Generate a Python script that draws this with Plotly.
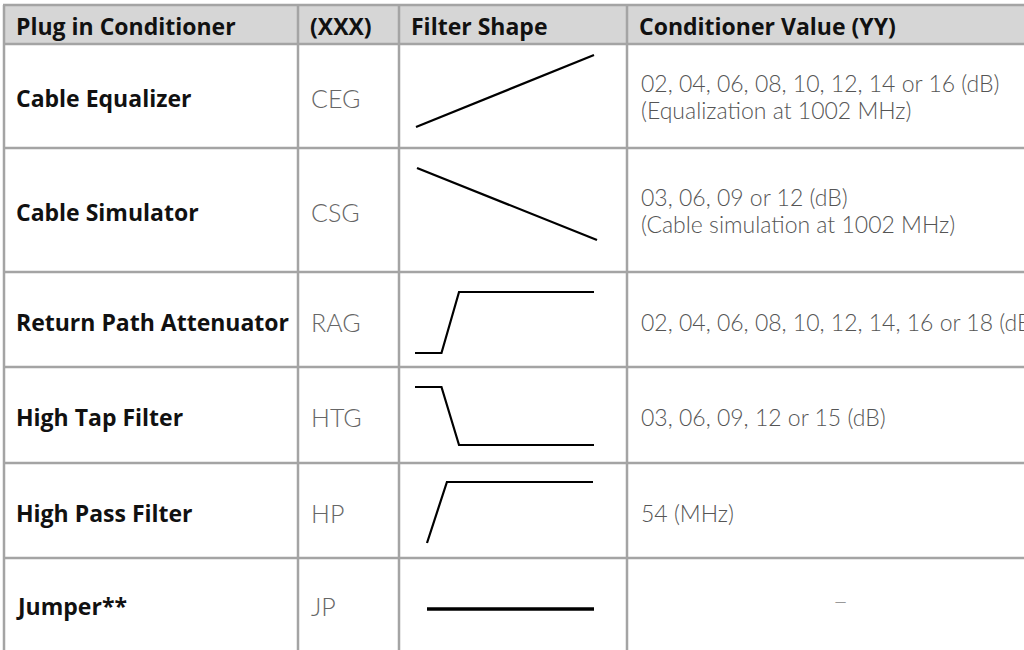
import plotly.graph_objects as go

# ---------------- data ----------------
headers = ["Plug in Conditioner", "(XXX)", "Filter Shape", "Conditioner Value (YY)"]
components = ["Cable Equalizer", "Cable Simulator", "Return Path Attenuator",
              "High Tap Filter", "High Pass Filter", "Jumper**"]
codes = ["CEG", "CSG", "RAG", "HTG", "HP", "JP"]
values_line1 = ["02, 04, 06, 08, 10, 12, 14 or 16 (dB)",
                "03, 06, 09 or 12 (dB)",
                "02, 04, 06, 08, 10, 12, 14, 16 or 18 (dB)",
                "03, 06, 09, 12 or 15 (dB)",
                "54 (MHz)",
                "\u2013"]
values_line2 = ["(Equalization at 1002 MHz)", "(Cable simulation at 1002 MHz)", "", "", "", ""]

# normalised filter response profiles (x: 0..1 frequency, y: 0..1 level)
shape_x = [[0, 1], [0, 1], [0, 0.148, 0.246, 1], [0, 0.148, 0.246, 1], [0, 0.12, 1], [0, 1]]
shape_y = [[0, 1], [1, 0], [0, 0, 1, 1], [1, 1, 0, 0], [0, 1, 1], [0.5, 0.5]]

# ---------------- layout constants (page pixels) ----------------
W, H = 1024, 650
col_x = [4, 298, 399, 627, 1100]
row_y = [5, 44, 148, 272, 367, 463, 558, 650]
# box (x0, x1, top, bottom) of the drawn filter shape in each row
shape_box = [(416, 594, 55, 127), (417, 597, 168, 240), (415, 594, 292, 353),
             (415, 594, 387, 445), (427, 593, 482, 543), (427, 594, 609, 609)]
grid_col = "#a4a4a4"
head_bg = "#d6d6d6"

fig = go.Figure()

shapes = []
shapes.append(dict(type="rect", xref="x", yref="y", x0=col_x[0], x1=col_x[-1],
                   y0=row_y[0], y1=row_y[1], fillcolor=head_bg, line_width=0, layer="below"))
for y in row_y[:-1]:
    shapes.append(dict(type="line", xref="x", yref="y", x0=col_x[0] - 1, x1=col_x[-1],
                       y0=y, y1=y, line=dict(color=grid_col, width=2.5)))
for x in col_x[:-1]:
    shapes.append(dict(type="line", xref="x", yref="y", x0=x, x1=x,
                       y0=row_y[0], y1=row_y[-1] + 20, line=dict(color=grid_col, width=2.5)))

bold_font = dict(family="Open Sans, sans-serif", size=23, color="#111", weight=700)
code_font = dict(family="Lato, sans-serif", size=25, color="#666", weight=300)
val_font = dict(family="Lato, sans-serif", size=23, color="#555", weight=300)

annotations = []
for i, h in enumerate(headers):
    annotations.append(dict(x=col_x[i] + 10, y=(row_y[0] + row_y[1]) / 2 + 1, text=h,
                            xanchor="left", yanchor="middle", showarrow=False, font=bold_font))

for r in range(len(components)):
    yc = (row_y[r + 1] + row_y[r + 2]) / 2 + 2
    annotations.append(dict(x=col_x[0] + 10, y=yc, text=components[r], xanchor="left",
                            yanchor="middle", showarrow=False, font=bold_font))
    annotations.append(dict(x=col_x[1] + 11, y=yc, text=codes[r], xanchor="left",
                            yanchor="middle", showarrow=False, font=code_font))
    if values_line1[r] == "\u2013":
        annotations.append(dict(x=(col_x[3] + 1054) / 2, y=yc - 6, text=values_line1[r],
                                xanchor="center", yanchor="middle", showarrow=False,
                                font=dict(family="Lato, sans-serif", size=26, color="#999", weight=300)))
    elif values_line2[r]:
        annotations.append(dict(x=col_x[3] + 12, y=yc - 15, text=values_line1[r], xanchor="left",
                                yanchor="middle", showarrow=False, font=val_font))
        annotations.append(dict(x=col_x[3] + 12, y=yc + 12, text=values_line2[r], xanchor="left",
                                yanchor="middle", showarrow=False, font=val_font))
    else:
        annotations.append(dict(x=col_x[3] + 12, y=yc, text=values_line1[r], xanchor="left",
                                yanchor="middle", showarrow=False, font=val_font))

    x0, x1, top, bot = shape_box[r]
    xs = [x0 + v * (x1 - x0) for v in shape_x[r]]
    ys = [bot - v * (bot - top) for v in shape_y[r]]
    fig.add_trace(go.Scatter(x=xs, y=ys, mode="lines",
                             line=dict(color="black", width=3.5 if r == 5 else 2.2),
                             hoverinfo="skip", showlegend=False))

fig.update_layout(
    width=W, height=H, margin=dict(l=0, r=0, t=0, b=0),
    paper_bgcolor="white", plot_bgcolor="white",
    shapes=shapes, annotations=annotations, showlegend=False,
    xaxis=dict(range=[0, W], visible=False, fixedrange=True),
    yaxis=dict(range=[H, 0], visible=False, fixedrange=True),
)
fig.write_html("out.html", config={"displayModeBar": False},
               post_script="document.body.style.margin='0';document.body.style.overflow='hidden';")
